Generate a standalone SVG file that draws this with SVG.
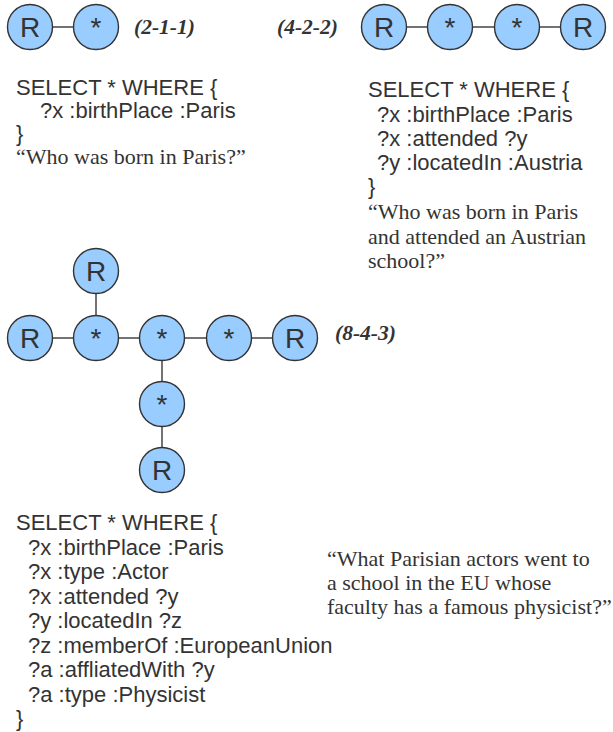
<svg xmlns="http://www.w3.org/2000/svg" width="613" height="732" viewBox="0 0 613 732">
<style>
.n circle{fill:#99ccff;stroke:#333;stroke-width:1.4}
.n text{font-family:"Liberation Sans",Arial,sans-serif;font-size:28px;fill:#333;text-anchor:middle}
.e line{stroke:#444;stroke-width:1.5}
.q{font-family:"Liberation Sans",Arial,sans-serif;font-size:22px;fill:#333}
.s{font-family:"Liberation Serif","Times New Roman",serif;font-size:22px;fill:#333}
.lbl{font-family:"Liberation Serif","Times New Roman",serif;font-size:21.5px;font-weight:bold;font-style:italic;fill:#333}
</style>
<rect width="613" height="732" fill="#fff"/>
<g id="connectors" class="e">
<line x1="30" y1="27" x2="96" y2="27"/>
<line x1="384" y1="27" x2="583" y2="27"/>
<line x1="30" y1="338" x2="295" y2="338"/>
<line x1="96" y1="271" x2="96" y2="338"/>
<line x1="162" y1="338" x2="162" y2="470"/>
</g>
<g id="g1-r" class="n"><circle cx="30" cy="27" r="22.5"/><text x="30" y="37">R</text></g>
<g id="g1-s" class="n"><circle cx="96" cy="27" r="22.5"/><text x="96" y="37">*</text></g>
<g id="g2-r1" class="n"><circle cx="384" cy="27" r="22.5"/><text x="384" y="37">R</text></g>
<g id="g2-s1" class="n"><circle cx="450" cy="27" r="22.5"/><text x="450" y="37">*</text></g>
<g id="g2-s2" class="n"><circle cx="517" cy="27" r="22.5"/><text x="517" y="37">*</text></g>
<g id="g2-r2" class="n"><circle cx="583" cy="27" r="22.5"/><text x="583" y="37">R</text></g>
<g id="g3-rtop" class="n"><circle cx="96" cy="271" r="22.5"/><text x="96" y="281">R</text></g>
<g id="g3-r1" class="n"><circle cx="30" cy="338" r="22.5"/><text x="30" y="348">R</text></g>
<g id="g3-s1" class="n"><circle cx="96" cy="338" r="22.5"/><text x="96" y="348">*</text></g>
<g id="g3-s2" class="n"><circle cx="162" cy="338" r="22.5"/><text x="162" y="348">*</text></g>
<g id="g3-s3" class="n"><circle cx="229" cy="338" r="22.5"/><text x="229" y="348">*</text></g>
<g id="g3-r2" class="n"><circle cx="295" cy="338" r="22.5"/><text x="295" y="348">R</text></g>
<g id="g3-s4" class="n"><circle cx="162" cy="404" r="22.5"/><text x="162" y="414">*</text></g>
<g id="g3-rbot" class="n"><circle cx="162" cy="470" r="22.5"/><text x="162" y="480">R</text></g>

<text class="lbl" x="134" y="34">(2-1-1)</text>
<text class="lbl" x="277" y="34">(4-2-2)</text>
<text class="lbl" x="335" y="340">(8-4-3)</text>

<text class="q" x="16" y="95">SELECT * WHERE {</text>
<text class="q" x="40" y="118">?x :birthPlace :Paris</text>
<text class="q" x="16" y="141">}</text>
<text class="s" x="16" y="164">“Who was born in Paris?”</text>

<text class="q" x="368" y="97">SELECT * WHERE {</text>
<text class="q" x="377" y="122">?x :birthPlace :Paris</text>
<text class="q" x="377" y="146">?x :attended ?y</text>
<text class="q" x="377" y="170">?y :locatedIn :Austria</text>
<text class="q" x="368" y="194">}</text>
<text class="s" x="368" y="219">“Who was born in Paris</text>
<text class="s" x="368" y="244">and attended an Austrian</text>
<text class="s" x="368" y="268">school?”</text>

<text class="q" x="16" y="530">SELECT * WHERE {</text>
<text class="q" x="28" y="555">?x :birthPlace :Paris</text>
<text class="q" x="28" y="579">?x :type :Actor</text>
<text class="q" x="28" y="604">?x :attended ?y</text>
<text class="q" x="28" y="628">?y :locatedIn ?z</text>
<text class="q" x="28" y="653">?z :memberOf :EuropeanUnion</text>
<text class="q" x="28" y="677">?a :affliatedWith ?y</text>
<text class="q" x="28" y="702">?a :type :Physicist</text>
<text class="q" x="16" y="726">}</text>

<text class="s" x="327" y="566">“What Parisian actors went to</text>
<text class="s" x="327" y="590">a school in the EU whose</text>
<text class="s" x="327" y="614">faculty has a famous physicist?”</text>
</svg>
